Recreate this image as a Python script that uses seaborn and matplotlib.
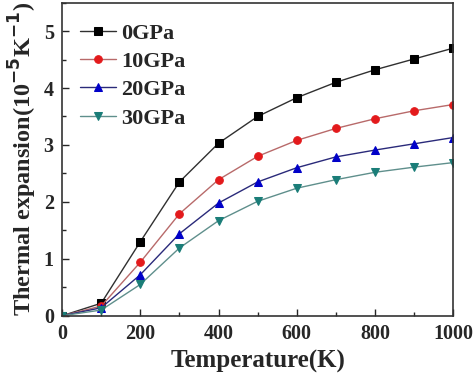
import matplotlib
matplotlib.use("Agg")
import matplotlib.pyplot as plt
import numpy as np
import pandas as pd
import seaborn as sns
from matplotlib.ticker import MultipleLocator

# Temperature (K) and thermal expansion (10^-5 K^-1) at each pressure
temperature = [0, 100, 200, 300, 400, 500, 600, 700, 800, 900, 1000]
alpha_0gpa = [0.0, 0.22, 1.30, 2.35, 3.03, 3.50, 3.83, 4.10, 4.32, 4.51, 4.70]
alpha_10gpa = [0.0, 0.17, 0.94, 1.79, 2.39, 2.80, 3.08, 3.29, 3.46, 3.60, 3.71]
alpha_20gpa = [0.0, 0.14, 0.72, 1.44, 1.98, 2.35, 2.60, 2.79, 2.91, 3.02, 3.13]
alpha_30gpa = [0.0, 0.10, 0.55, 1.19, 1.67, 2.01, 2.24, 2.39, 2.52, 2.61, 2.69]
labels = ["0GPa", "10GPa", "20GPa", "30GPa"]

series = [alpha_0gpa, alpha_10gpa, alpha_20gpa, alpha_30gpa]
markers = ["s", "o", "^", "v"]
marker_colors = ["#000000", "#e31a1c", "#0000c8", "#1a7d78"]
line_colors = ["#303030", "#b86a6a", "#2a2a7a", "#5f8f8c"]

sns.set_style("ticks")
plt.rcParams["font.family"] = ["Liberation Serif", "DejaVu Serif"]
plt.rcParams["font.weight"] = "bold"
plt.rcParams["mathtext.default"] = "bf"

fig = plt.figure(figsize=(4.74, 3.75), dpi=100)
ax = fig.add_axes([0.131, 0.158, 0.825, 0.835])

for ys, lab, m, mc, lc in zip(series, labels, markers, marker_colors, line_colors):
    df = pd.DataFrame({"T": temperature, "alpha": ys})
    sns.lineplot(data=df, x="T", y="alpha", ax=ax, color=lc, linewidth=1.0,
                 marker=m, markersize=5.5, markerfacecolor=mc,
                 markeredgecolor=mc, label=lab)

ax.set_xlim(0, 1000)
ax.set_ylim(0, 5.5)
ax.xaxis.set_major_locator(MultipleLocator(200))
ax.xaxis.set_minor_locator(MultipleLocator(100))
ax.yaxis.set_major_locator(MultipleLocator(1))
ax.yaxis.set_minor_locator(MultipleLocator(0.5))
ax.tick_params(which="both", direction="in", top=False, right=False)
ax.tick_params(which="major", length=5, width=1, labelsize=14.5, pad=6)
ax.tick_params(which="minor", length=3, width=1)
for lbl in ax.get_xticklabels() + ax.get_yticklabels():
    lbl.set_fontweight("bold")
for s in ax.spines.values():
    s.set_linewidth(1.2)
    s.set_color("#333333")

ax.set_xlabel("Temperature(K)", fontsize=18, fontweight="bold", labelpad=4)
ax.set_ylabel(r"Thermal expansion(10$^{-5}$K$^{-1}$)", fontsize=17.5,
              fontweight="bold", labelpad=3)

ax.legend(loc="upper left", frameon=False, prop={"size": 16, "weight": "bold"},
          handlelength=1.6, handletextpad=0.25, labelspacing=0.35,
          borderaxespad=0, borderpad=0, bbox_to_anchor=(0.046, 0.935))

fig.savefig("out.png", dpi=100)
